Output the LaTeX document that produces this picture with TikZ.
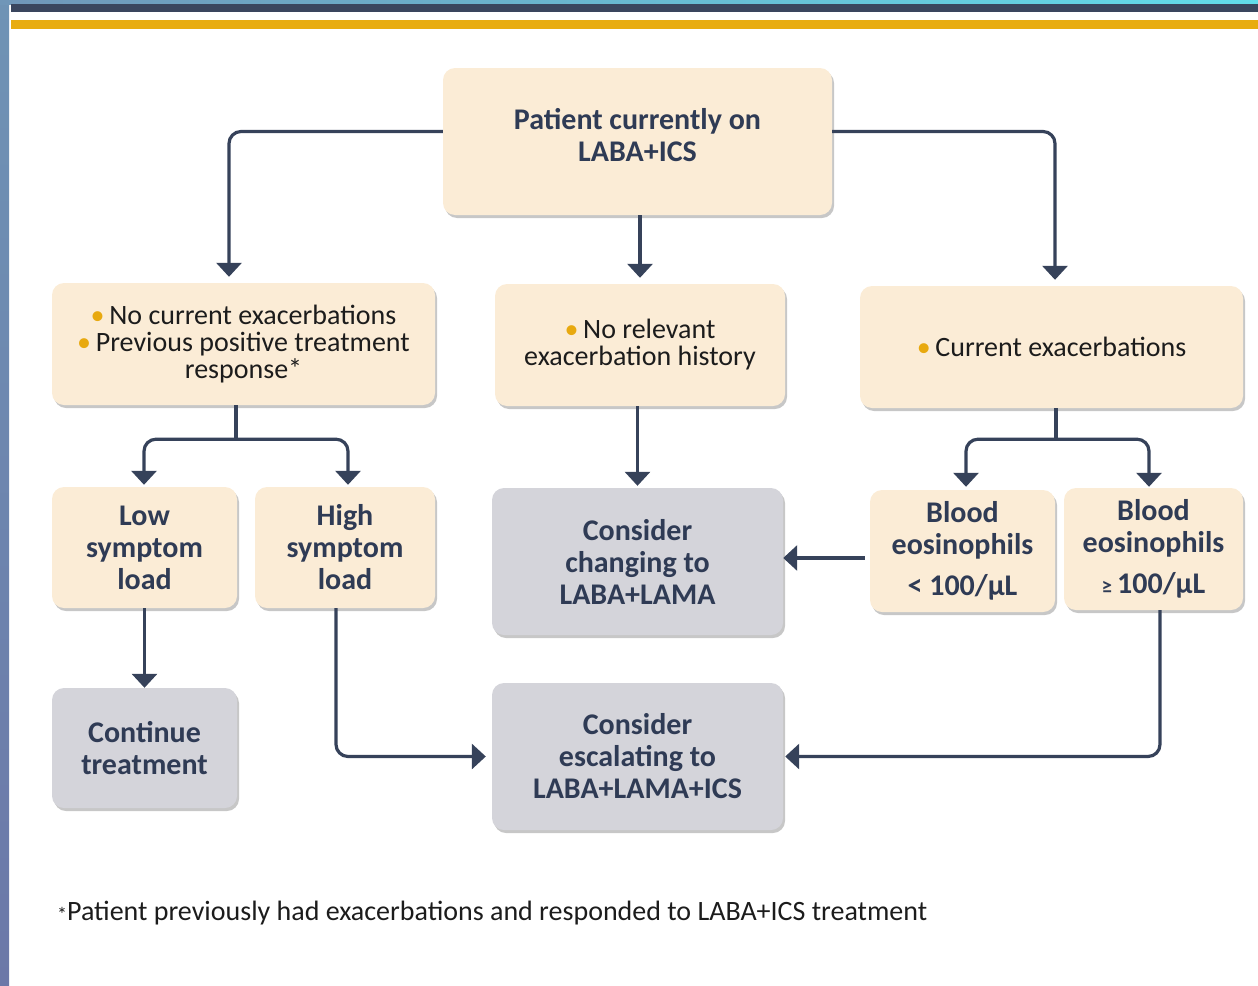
\documentclass[tikz,border=0pt]{standalone}
\usepackage{fontspec}
\setmainfont{Carlito}
\usetikzlibrary{arrows.meta,shadows}
\definecolor{navy}{HTML}{36425A}
\definecolor{cream}{HTML}{FBECD6}
\definecolor{greybox}{HTML}{D4D4DA}
\definecolor{bul}{HTML}{E8A90F}
\definecolor{gold}{HTML}{E8AC10}
\definecolor{txtdark}{HTML}{2F3B55}
\definecolor{txtblack}{HTML}{1C1C1C}
\definecolor{stripA}{HTML}{6F93B5}
\definecolor{stripB}{HTML}{6C78A8}
\definecolor{topA}{HTML}{7096B8}
\definecolor{topB}{HTML}{62DCEA}
\definecolor{band}{HTML}{3A465E}
\tikzset{
  boxbase/.style={rectangle, rounded corners=12pt, inner sep=0pt, align=center,
    drop shadow={shadow xshift=2pt, shadow yshift=-3pt, fill=black, opacity=0.22}},
  creambox/.style={boxbase, fill=cream},
  greyboxst/.style={boxbase, fill=greybox},
  headtxt/.style={font=\fontsize{30}{32}\selectfont\bfseries, text=txtdark},
  plaintxt/.style={font=\fontsize{28}{27}\selectfont, text=txtblack},
  conn/.style={draw=navy, line width=3.2pt, rounded corners=12pt,
    -{Triangle[width=25pt,length=14pt]}},
  plainline/.style={draw=navy, line width=3.2pt},
}
\newcommand{\bult}{\textcolor{bul}{•}\,}
\begin{document}
\begin{tikzpicture}[x=1pt,y=-1pt]
\useasboundingbox (0,0) rectangle (1258,985);
% background decorations
\shade[top color=stripA, bottom color=stripB] (0,0) rectangle (9,985);
\shade[left color=topA, right color=topB] (0,0) rectangle (1258,4);
\fill[band] (11,4) rectangle (1258,12);
\fill[gold] (11,20) rectangle (1258,29);

% boxes
\node[creambox, headtxt, minimum width=389pt, minimum height=147pt, text depth=14pt] (top) at (637.5,141.5) {Patient currently on\\LABA+ICS};
\node[creambox, plaintxt, minimum width=383pt, minimum height=122pt] (A) at (243.5,344) {\bult No current exacerbations\\\bult Previous positive treatment\\response*};
\node[creambox, plaintxt, minimum width=290pt, minimum height=122pt] (B) at (640,345) {\bult No relevant\\exacerbation history};
\node[creambox, plaintxt, minimum width=383pt, minimum height=122pt] (C) at (1051.5,347) {\bult Current exacerbations};
\node[creambox, headtxt, minimum width=185pt, minimum height=121pt] (low) at (144.5,547.5) {Low\\symptom\\load};
\node[creambox, headtxt, minimum width=180pt, minimum height=121pt] (high) at (345,547.5) {High\\symptom\\load};
\node[greyboxst, headtxt, minimum width=291pt, minimum height=147pt] (chg) at (637.5,561.5) {Consider\\changing to\\LABA+LAMA};
\node[creambox, headtxt, minimum width=185pt, minimum height=122pt] (bl1) at (962.5,551) {Blood\\eosinophils\\[9pt]< 100/μL};
\node[creambox, headtxt, minimum width=179pt, minimum height=122pt] (bl2) at (1153.5,549) {Blood\\eosinophils\\[9pt]{\fontsize{21}{22}\selectfont ≥}\,100/μL};
\node[greyboxst, headtxt, minimum width=185pt, minimum height=120pt] (cont) at (144.5,748) {Continue\\treatment};
\node[greyboxst, headtxt, minimum width=291pt, minimum height=147pt] (esc) at (637.5,756.5) {Consider\\escalating to\\LABA+LAMA+ICS};

% footnote
\node[plaintxt, anchor=west, inner sep=0pt] (foot) at (57,913) {\raisebox{-1pt}{\fontsize{20}{20}\selectfont *}Patient previously had exacerbations and responded to LABA+ICS treatment};

% connectors
\draw[conn] ([yshift=10pt]top.west) -| ([xshift=-14.5pt,yshift=6pt]A.north);
\draw[conn] ([yshift=10pt]top.east) -| ([xshift=3.5pt,yshift=6pt]C.north);
\draw[conn] (top.south -| B.north) -- ([yshift=6pt]B.north);

\draw[plainline] ([xshift=-7.5pt]A.south) -- ++(0,34) coordinate (aj);
\draw[conn] (aj) -| ([xshift=-0.5pt,yshift=2pt]low.north);
\draw[conn] (aj) -| ([xshift=3pt,yshift=2pt]high.north);

\draw[conn] (chg.north |- B.south) -- ([yshift=2pt]chg.north);

\draw[plainline] ([xshift=4.5pt]C.south) -- ++(0,31) coordinate (cj);
\draw[conn] (cj) -| ([xshift=3.5pt,yshift=3pt]bl1.north);
\draw[conn] (cj) -| ([xshift=-4.5pt,yshift=1pt]bl2.north);

\coordinate (bp) at ([xshift=-5pt,yshift=-7pt]bl1.west);
\draw[conn] (bp) -- (bp -| chg.east);

\draw[conn] (low.south) -- (cont.north);
\draw[conn] ([xshift=-9pt]high.south) |- ([xshift=-6pt]esc.west);
\draw[conn] ([xshift=6.5pt]bl2.south) |- ([xshift=2pt]esc.east);
\end{tikzpicture}
\end{document}
